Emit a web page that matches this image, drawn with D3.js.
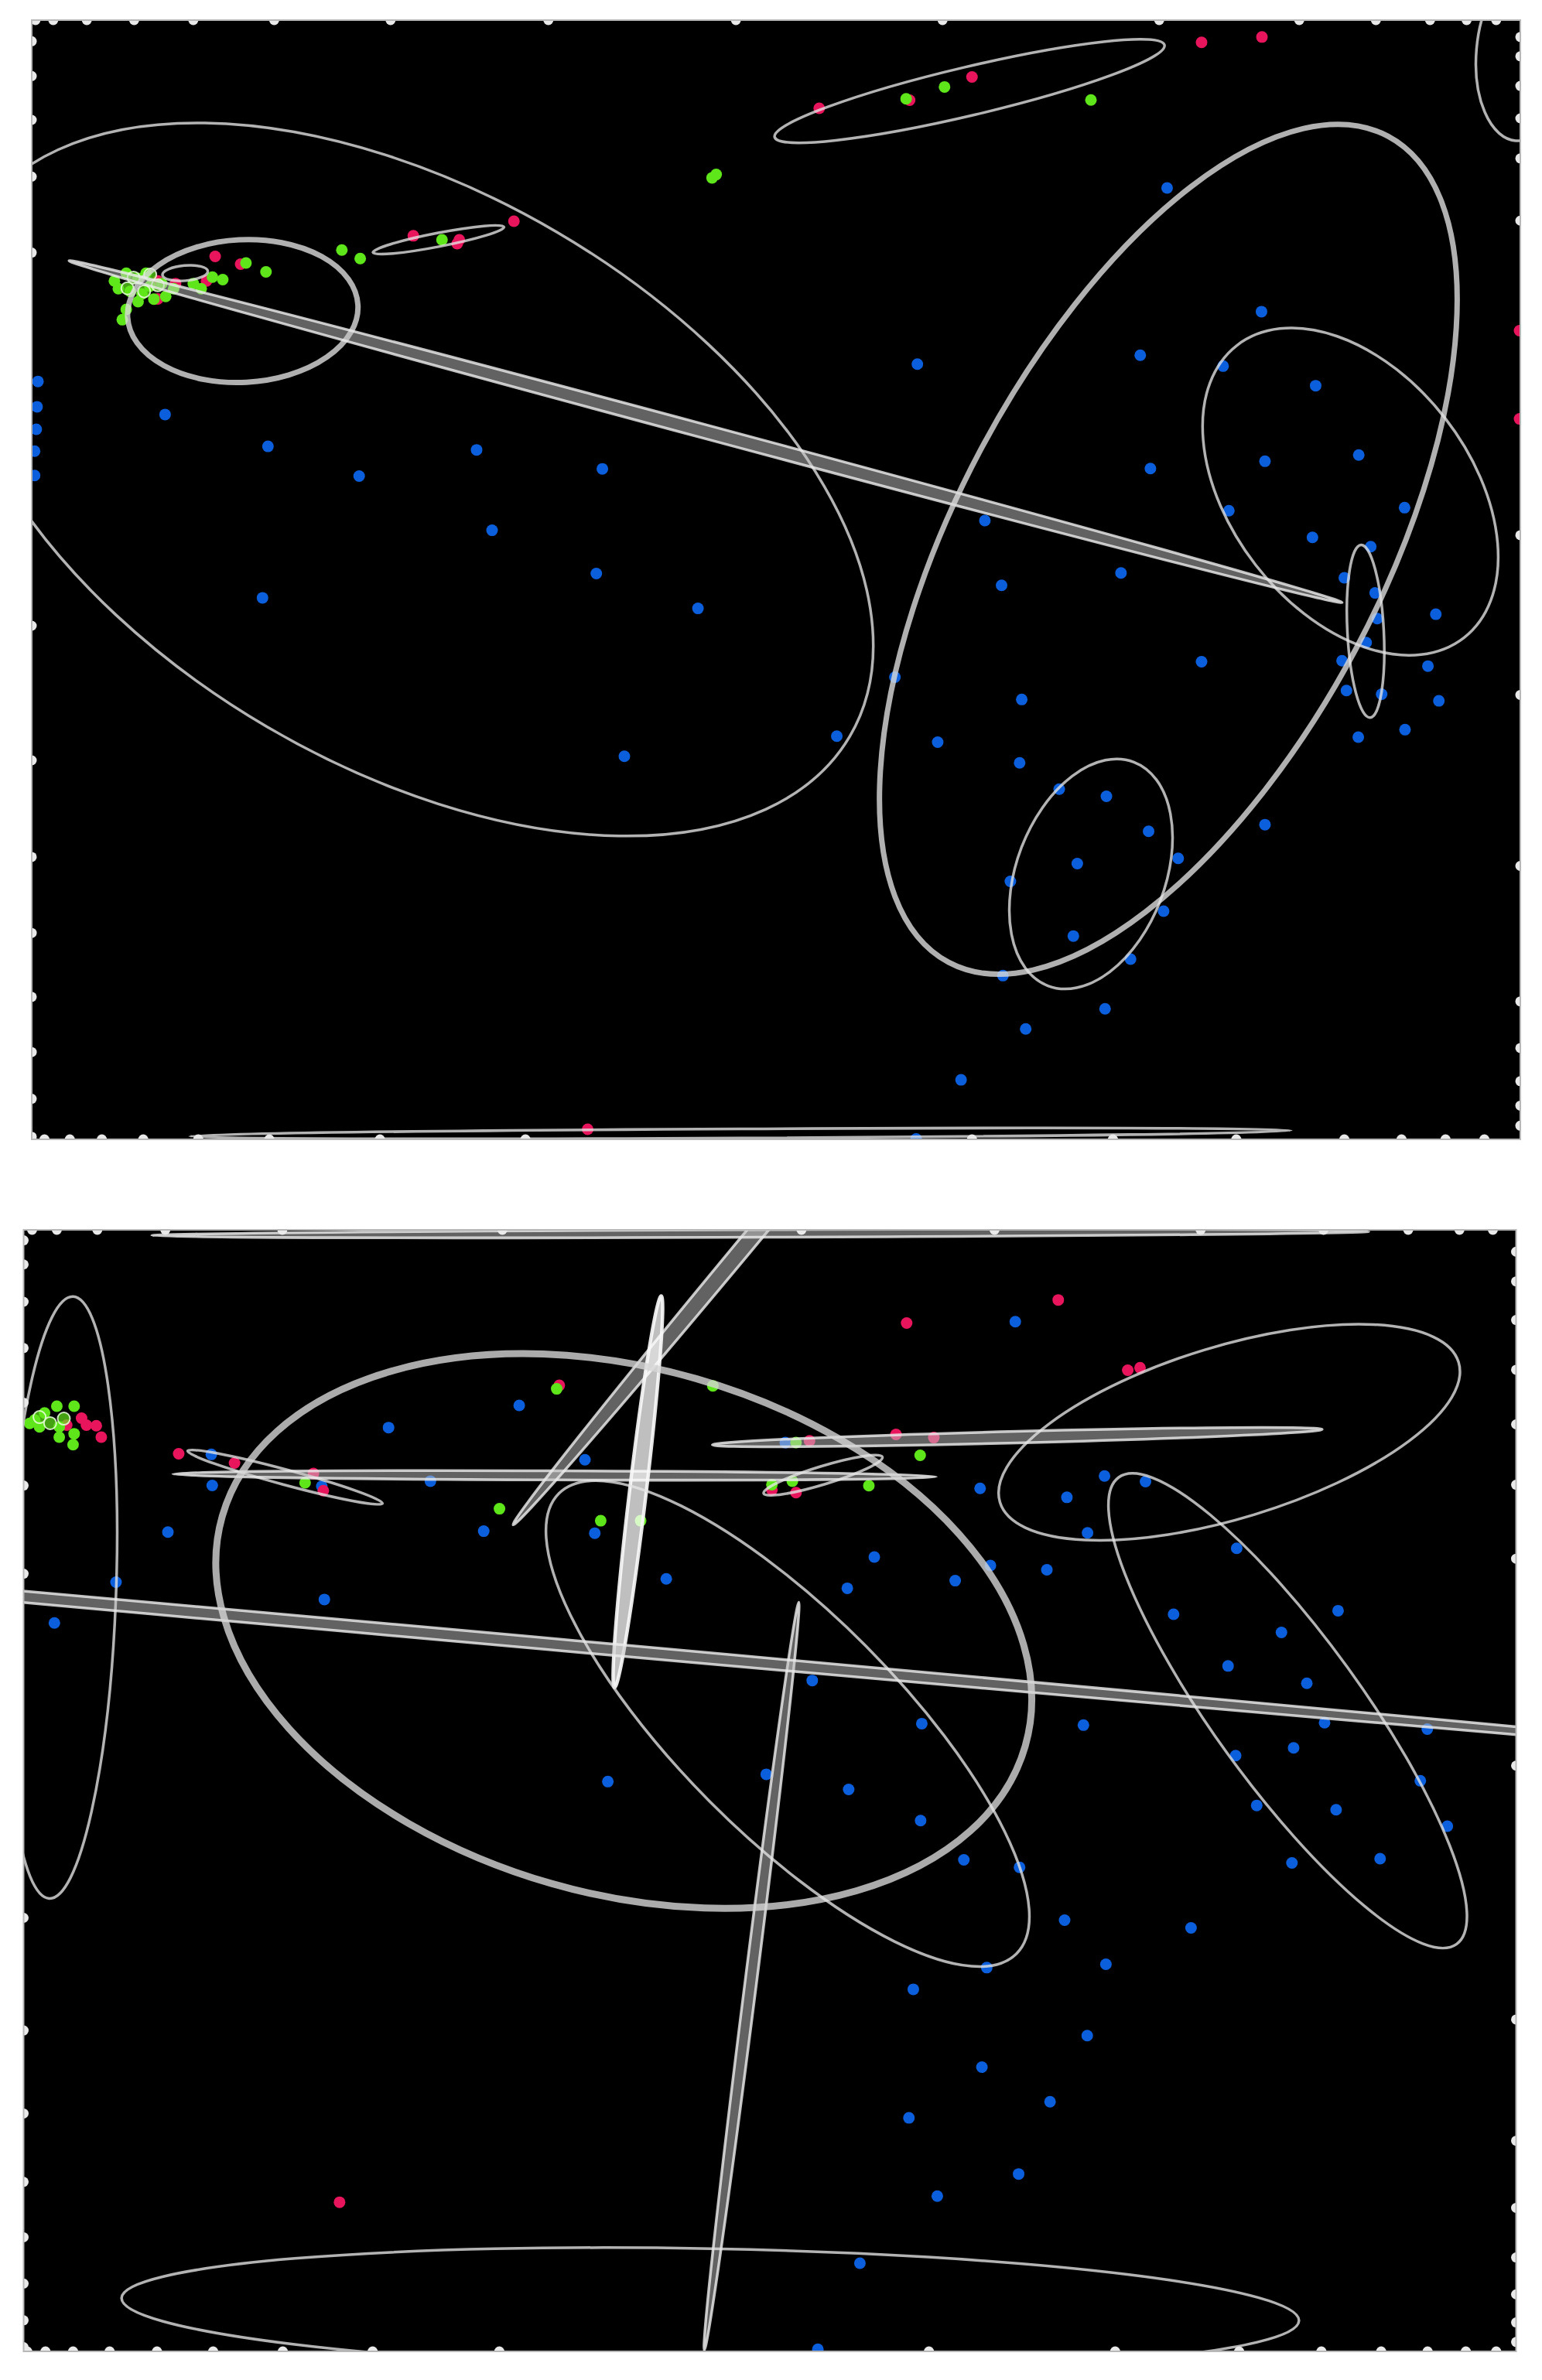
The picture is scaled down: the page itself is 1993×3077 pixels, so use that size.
<!DOCTYPE html>
<html>
<head>
<meta charset="utf-8">
<script src="https://cdn.jsdelivr.net/npm/d3@7"></script>
<style>
  body { margin: 0; background: #fff; }
</style>
</head>
<body>
<div id="chart"></div>
<script>
var width = 1993
var height = 3077

// ---------- top panel ----------
var top_blue = [
  [25.0,251.4],[24.4,268.1],[23.9,282.9],[22.8,297.3],[22.8,313.4],
  [108.8,273.2],[176.6,294.2],[236.7,313.8],[314.1,296.5],[324.3,349.5],
  [397,309],[393,378],[173,394],[460,401],[411.5,498.4],[551.5,485.2],
  [604.6,240.0],[769.2,123.9],[751.5,234.1],[831.4,205.4],[806.1,241.3],[867.1,254.2],[833.7,304.0],[895.5,299.9],
  [758.2,308.8],[809.9,336.6],[925.7,334.6],[865.0,354.2],[903.4,360.3],[649.1,343.1],[886.0,380.8],[906.3,390.8],
  [738.8,377.6],[660.1,385.8],[907.7,407.7],[946.3,404.8],[900.4,423.5],[884.5,435.5],[791.9,436.1],[941.1,439.0],
  [589.8,446.3],[887.4,455.1],[910.6,457.5],[948.3,461.9],[673.4,461.0],[926.0,480.9],[895.2,485.8],[618.0,489.1],
  [672.0,502.8],[698.1,520.1],[729.2,524.8],[833.7,543.5],[757.0,547.9],[776.5,565.7],[710.0,569.2],[665.9,580.9],
  [766.9,600.5],[707.4,616.9],[745.1,632.1],[661.0,643.0],[728.3,664.9],[676.0,678.1],[633.4,711.7],[603.8,750.7]
]
var top_red = [
  [141.8,169.0],[158.6,174.1],[136.1,185.2],[104.0,185.2],[115.7,186.9],[104.0,197.0],
  [272.4,155.4],[302.7,158.0],[301.3,160.6],[338.7,145.8],
  [539.9,71.4],[599.5,66.0],[640.6,50.7],[791.9,27.9],[831.7,24.4],
  [1001.5,217.9],[1001.5,276.1],[387.3,744.3]
]
var top_green = [
  [75.4,185.2],[83.2,180.1],[91.0,183.5],[96.2,180.1],[78.0,190.3],[85.8,192.0],[93.6,193.7],[98.8,188.6],
  [106.6,186.9],[109.2,195.4],[91.0,198.8],[83.2,203.9],[80.6,210.7],[101.4,197.1],[114.4,190.3],
  [127.4,186.9],[132.6,190.3],[140.0,182.6],[146.8,184.3],[162.1,173.3],[175.3,179.2],
  [225.3,164.8],[237.4,170.4],[291.3,158.0],[469.3,117.2],[472.0,115.0],
  [597.2,65.1],[622.5,57.3],[719.0,65.9]
]
var top_rings = [[88,183],[95,192],[104,188],[84,190],[99,181]]
// ellipses: centre x, centre y, semi-axis a, semi-axis b, angle (deg), line kind
var top_ellipses = [
  [271.5,316,334.6,189,30.4,'thin'],
  [160,205,76,47,-3,'thick'],
  [289,158,44,4.5,-11,'thin'],
  [122,180,15,5,-5,'thin'],
  [465,284.5,434.4,4.5,15.03,'bar'],
  [639,60,132,16,-13.3,'thin'],
  [770,362,308.4,140,-62,'thick'],
  [890,324,122,79,52.2,'thin'],
  [900,416,57,12,87,'thin'],
  [719,576,79,49,-69,'thin'],
  [1004,35,58,31,95,'thin'],
  [488,747,363,3,-0.3,'thin']
]
var top_rug_top = [23.4,35.1,57.2,88.4,127.4,180.7,257.4,361.4,485,621.2,764,856.3,906.8,942.5,966.6,986.1]
var top_rug_bottom = [29.3,46,67.1,94.4,130.7,177.5,250.4,346.3,640.6,733.5,814.8,886,923.7,952.7,978.3]
var top_rug_left = [27.2,50.1,79,116.4,166.5,412.4,501.1,564.8,614.9,657,693.4,724.2,749.2]
var top_rug_right = [24.4,37.1,56.6,78,104.4,145.4,352.7,458,570.7,660,690.7,712.6,728.7,741.9]

// ---------- bottom panel ----------
var bot_blue = [
  [139.2,958.6],[212.0,979.6],[139.8,979.1],[110.6,1009.8],[76.4,1042.8],[35.8,1069.7],[213.7,1054.2],
  [256.0,940.9],[342.1,926.3],[385.4,962.1],[283.6,976.2],[318.7,1009.2],[391.9,1010.5],[439.0,1040.6],
  [669.0,871.1],[645.8,981.0],[703.0,986.9],[727.8,972.8],[754.8,976.5],[716.6,1010.3],[814.9,1020.5],
  [576.1,1026.2],[652.6,1031.8],[689.8,1034.6],[629.4,1041.8],[558.3,1046.8],[773.3,1063.9],[881.7,1061.6],
  [844.4,1075.9],[809.2,1098.0],[861.1,1109.4],[535.2,1107.6],[607.4,1136.0],[713.9,1137.0],[872.8,1135.4],
  [940.5,1139.6],[852.4,1152.0],[517.4,950.8],
  [814.2,1157.1],[935.9,1173.7],[559.2,1179.4],[606.6,1199.9],[828.1,1189.9],[880.4,1192.8],[953.7,1203.6],
  [635.1,1225.8],[671.8,1230.7],[851.3,1227.8],[909.4,1225.0],[701.5,1265.5],[784.8,1270.6],[650.2,1296.8],
  [728.7,1294.6],[601.8,1311.1],[716.4,1341.6],[647.0,1362.4],[691.9,1385.2],[598.9,1395.8],[671.2,1432.8],
  [617.6,1447.4],[566.6,1491.6],[538.9,1548.3],[400.5,1174.2],[504.9,1169.4]
]
var bot_red = [
  [53.7,934.7],[56.9,939.3],[63.4,939.7],[66.7,947.2],[43.9,939.3],
  [117.7,958.2],[154.5,964.3],[206.5,971.2],[213.0,982.5],[368.5,913.1],
  [597.4,872.0],[697.3,856.8],[743.1,903.1],[751.2,901.5],[590.4,945.4],[615.3,947.5],
  [533.4,949.6],[524.5,983.8],[508.6,982.0],[223.7,1451.4]
]
var bot_green = [
  [22.8,935.9],[29.3,931.3],[37.4,926.8],[48.8,926.8],[39.0,940.4],[48.8,945.0],[39.0,947.2],[48.1,952.2],
  [19.5,938.1],[26.0,940.4],
  [201.0,977.3],[366.8,915.4],[469.7,913.4],[329.1,994.4],[395.8,1002.3],[422.1,1002.3],[524.5,950.8],
  [606.3,959.2],[508.6,978.5],[522.1,976.2],[572.5,979.2]
]
var bot_rings = [[26,934],[33,938],[42,935]]
var bot_ellipses = [
  [40.3,1052.9,198.5,36,92.25,'thin'],
  [187.8,973.6,66.5,5,15.1,'thin'],
  [365.4,972.4,251.6,3,0.2,'bar'],
  [670.3,947.2,201,3.8,-1.45,'bar'],
  [500,810,253.5,5.5,-50.3,'bar'],
  [420.3,983.2,130,5.5,96.8,'bright'],
  [495.2,1302.5,248.5,3.8,97.2,'bar'],
  [200,1069,1100,3.8,5.13,'bar'],
  [411,1075,275.2,173.1,15.97,'heavy'],
  [519,1136,213.9,72.6,45.2,'thin'],
  [810,944,158,56.7,-17,'thin'],
  [848.5,1127.5,189.9,48.7,54.1,'thin'],
  [542.3,972.3,40.9,6,-17,'thin'],
  [468,1522,388,40,1.1,'thin'],
  [501,813,401,2.5,-0.2,'bar']
]
var bot_rug_top = [21.1,37.4,64.1,108.9,186,331,528.1,655.3,791.1,872.1,927.9,961.7,983.7]
var bot_rug_bottom = [17.9,29.9,48.1,72.2,103.4,140.4,186.3,245.5,329,612.1,734.8,816.5,870.7,910.1,940.7,965.9,985.9]
var bot_rug_left = [817.5,833.4,858,888.5,924.5,979.1,1037.2,1264,1338.2,1392.9,1438,1474.5,1505,1529.2,1546.9]
var bot_rug_right = [825,844.6,870,902.8,938.8,978.6,1027.3,1163.7,1331,1410.9,1455.1,1487.8,1512.1,1530.6,1543.5]

var colors = { blue: "#0b5fdc", red: "#e8155c", green: "#5fe61a" }

var line_styles = {
  thin:   { w: 3.5, stroke: "#e6e6e6", op: 0.78, fill: "none", fop: 0 },
  thick:  { w: 7,   stroke: "#dcdcdc", op: 0.8,  fill: "none", fop: 0 },
  heavy:  { w: 9,   stroke: "#d6d6d6", op: 0.8,  fill: "none", fop: 0 },
  bar:    { w: 3.5, stroke: "#ececec", op: 0.82, fill: "#c4c4c4", fop: 0.5 },
  bright: { w: 4.5, stroke: "#f8f8f8", op: 0.92, fill: "#ffffff", fop: 0.75 }
}

var svg = d3.select("#chart")
  .append("svg")
    .attr("width", width)
    .attr("height", height)

draw_panel("p1", [20.9, 1002], [13.25, 750.9], [41, 1965], [26, 1473],
  top_blue, top_red, top_green, top_rings, top_ellipses,
  top_rug_top, top_rug_bottom, top_rug_left, top_rug_right)

draw_panel("p2", [15.5, 999], [810.6, 1549.7], [30.5, 1959.5], [1590, 3040],
  bot_blue, bot_red, bot_green, bot_rings, bot_ellipses,
  bot_rug_top, bot_rug_bottom, bot_rug_left, bot_rug_right)

function draw_panel(id, xdom, ydom, xrange, yrange, blue, red, green, rings, ells, rt, rb, rl, rr){
  var x = d3.scaleLinear().domain(xdom).range(xrange)
  var y = d3.scaleLinear().domain(ydom).range(yrange)
  var k = x(1) - x(0)

  svg.append("clipPath")
      .attr("id", "clip-" + id)
    .append("rect")
      .attr("x", xrange[0])
      .attr("y", yrange[0])
      .attr("width", xrange[1] - xrange[0])
      .attr("height", yrange[1] - yrange[0])

  var g = svg.append("g")
    .attr("clip-path", "url(#clip-" + id + ")")

  g.append("rect")
    .attr("x", xrange[0])
    .attr("y", yrange[0])
    .attr("width", xrange[1] - xrange[0])
    .attr("height", yrange[1] - yrange[0])
    .style("fill", "#000")

  // points
  var groups = [[blue, colors.blue], [red, colors.red], [green, colors.green]]
  groups.forEach(function(gr){
    g.append("g")
      .selectAll("circle")
      .data(gr[0])
      .enter().append("circle")
        .attr("cx", d => x(d[0]))
        .attr("cy", d => y(d[1]))
        .attr("r", 7.5)
        .style("fill", gr[1])
  })

  g.append("g")
    .selectAll("circle")
    .data(rings)
    .enter().append("circle")
      .attr("cx", d => x(d[0]))
      .attr("cy", d => y(d[1]))
      .attr("r", 8)
      .style("fill", colors.green)
      .style("fill-opacity", 0.7)
      .style("stroke", "#eaffdc")
      .style("stroke-width", 2)
      .style("stroke-opacity", 0.85)

  // covariance ellipses
  g.append("g")
    .selectAll("ellipse")
    .data(ells)
    .enter().append("ellipse")
      .attr("transform", d => "translate(" + x(d[0]) + "," + y(d[1]) + ") rotate(" + d[4] + ")")
      .attr("rx", d => d[2] * k)
      .attr("ry", d => d[3] * k)
      .style("fill", d => line_styles[d[5]].fill)
      .style("fill-opacity", d => line_styles[d[5]].fop)
      .style("stroke", d => line_styles[d[5]].stroke)
      .style("stroke-opacity", d => line_styles[d[5]].op)
      .style("stroke-width", d => line_styles[d[5]].w)

  // rug dots on the frame
  var rug = g.append("g").style("fill", "#e9e9e9")
  rug.selectAll(".rt").data(rt).enter().append("circle")
    .attr("cx", d => x(d)).attr("cy", yrange[0]).attr("r", 6.5)
  rug.selectAll(".rb").data(rb).enter().append("circle")
    .attr("cx", d => x(d)).attr("cy", yrange[1]).attr("r", 6.5)
  rug.selectAll(".rl").data(rl).enter().append("circle")
    .attr("cx", xrange[0]).attr("cy", d => y(d)).attr("r", 6.5)
  rug.selectAll(".rr").data(rr).enter().append("circle")
    .attr("cx", xrange[1]).attr("cy", d => y(d)).attr("r", 6.5)

  svg.append("rect")
    .attr("x", xrange[0])
    .attr("y", yrange[0])
    .attr("width", xrange[1] - xrange[0])
    .attr("height", yrange[1] - yrange[0])
    .style("fill", "none")
    .style("stroke", "#b8b8b8")
    .style("stroke-width", 2)
}
</script>
</body>
</html>
